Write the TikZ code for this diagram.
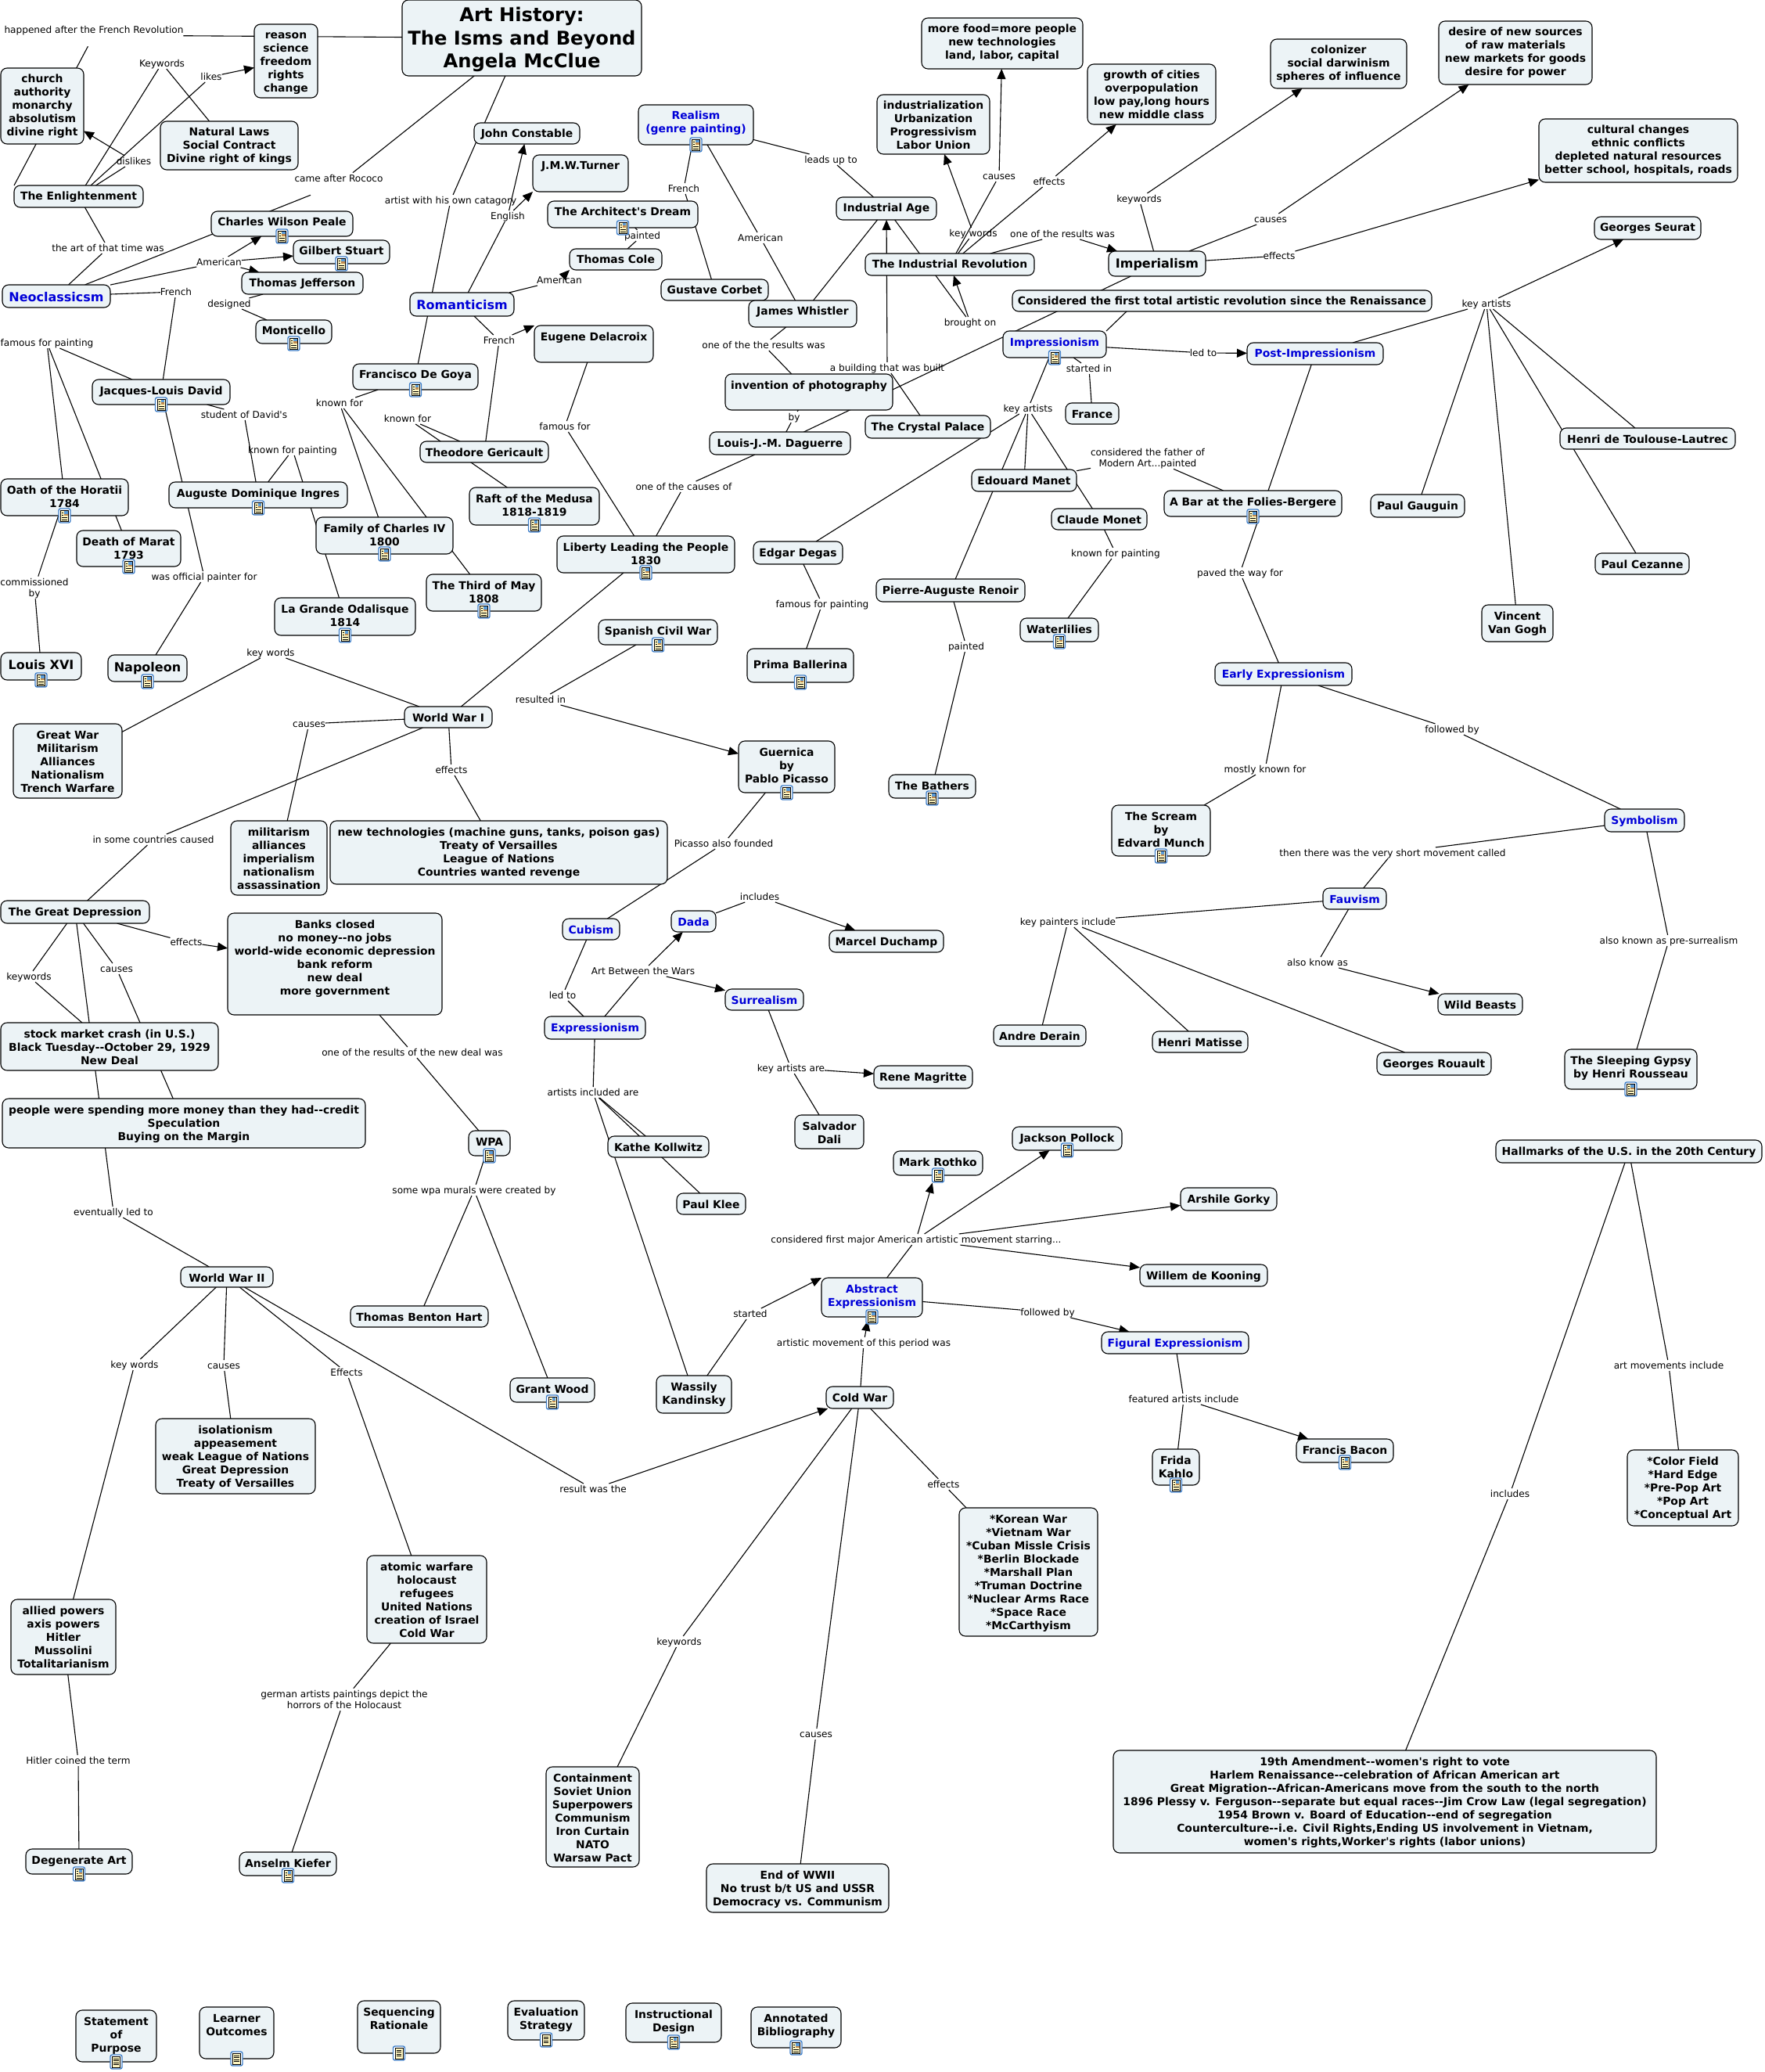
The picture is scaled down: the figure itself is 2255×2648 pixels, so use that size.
\documentclass[tikz,border=0pt]{standalone}
\usepackage{fontspec}
\setmainfont[Ligatures=TeXOff]{DejaVu Sans}
\usetikzlibrary{arrows.meta}
\pgfdeclarelayer{edges}
\pgfsetlayers{edges,main}
\definecolor{boxfill}{HTML}{ECF3F6}
\definecolor{conceptblue}{HTML}{0000D8}
\definecolor{iconblue}{HTML}{3F7FC8}
\definecolor{iconpaper}{HTML}{FFF6C0}
\definecolor{iconsky}{HTML}{5A9BD8}
\definecolor{iconearth}{HTML}{C08A50}
\newcommand\cnrule{9.5pt}
\newcommand\bluetxt{\color{conceptblue}}
\newcommand\bigtxt{\fontsize{8}{9.5}\selectfont\renewcommand\cnrule{10.6pt}}
\newcommand\cnode[7][]{%
  \pgfmathsetmacro\cnW{(#5-#3)*0.5}%
  \pgfmathsetmacro\cnH{(#6-#4)*0.5}%
  \pgfmathsetmacro\cnX{(#3+#5)/2}%
  \pgfmathsetmacro\cnY{(#4+#6)/2}%
  \node[concept] (#2) at (\cnX,\cnY) {\parbox[c][\cnH pt][t]{\cnW pt}{\bfseries\fontsize{6.95}{8.5}\selectfont
    \centering\leftskip=-60pt plus 1fil\rightskip=-60pt plus 1fil#1\leavevmode\rule{0pt}{\cnrule}#7}};%
}
\newcommand\lbl[4]{\node[linklabel] (#1) at (#2,#3) {#4};}
\newcommand\lstr{\rule[-1.2pt]{0pt}{7pt}}
\newcommand\imgicon[1]{\begin{scope}[shift={(#1.south)}]
  \filldraw[draw=iconblue,fill=white,line width=0.7pt,rounded corners=1.2pt] (-7.5,-9) rectangle (7.5,9);
  \filldraw[draw=black,fill=iconpaper,line width=0.35pt] (-5,-7) rectangle (5,7);
  \fill[iconsky] (-0.5,-6) rectangle (4,-2.5);
  \fill[iconearth] (-0.5,-2.5) rectangle (4,0);
  \foreach \yy in {-4,-1,2,5} \draw[line width=0.4pt] (-3.5,\yy) -- (\ifnum\yy<0 -1.2\else 3.5\fi,\yy);
\end{scope}}
\newcommand\txticon[1]{\begin{scope}[shift={(#1.south)}]
  \filldraw[draw=iconblue,fill=white,line width=0.7pt,rounded corners=1.2pt] (-7.5,-9) rectangle (7.5,9);
  \filldraw[draw=black,fill=iconpaper,line width=0.35pt] (-5,-7) rectangle (5,7);
  \foreach \yy in {-4,-1.5,1,3.5} \draw[line width=0.4pt] (-3.3,\yy) -- (3.3,\yy);
\end{scope}}
\tikzset{
  concept/.style={draw=black,fill=boxfill,line width=0.55pt,rounded corners=4pt,inner sep=0pt,outer sep=0pt},
  linklabel/.style={inner sep=0pt,outer sep=0pt,align=center,font=\fontsize{6.05}{7.3}\selectfont},
  conn/.style={draw=black,line width=0.55pt},
  arr/.style={conn,-{Triangle[length=6.5pt,width=5.5pt]}},
}
\begin{document}
\begin{tikzpicture}[x=0.5pt,y=-0.5pt]
\useasboundingbox (0,0) rectangle (2255,2648);
% ---- concepts
\cnode{title}{514}{0}{820}{97}{\fontsize{12.1}{14.6}\selectfont\rule{0pt}{14pt}Art History:\\The Isms and Beyond\\Angela McClue}
\cnode{reason}{325}{31}{406}{125}{reason\\science\\freedom\\rights\\change}
\cnode{church}{1}{87}{107}{184}{church\\authority\\monarchy\\absolutism\\divine right}
\cnode{natlaws}{205}{155}{381}{217}{Natural Laws\\Social Contract\\Divine right of kings}
\cnode{ent}{18}{237}{183}{265}{The Enlightenment}
\cnode{constable}{606}{157}{741}{184}{John Constable}
\cnode{turner}{681}{198}{803}{245}{J.M.W.Turner}
\cnode{peale}{270}{270}{451}{302}{Charles Wilson Peale}
\cnode{gilbert}{375}{307}{498}{337}{Gilbert Stuart}
\cnode{jefferson}{309}{348}{464}{376}{Thomas Jefferson}
\cnode{monticello}{327}{409}{424}{439}{Monticello}
\cnode[\bluetxt\bigtxt]{neo}{3}{364}{141}{393}{Neoclassicsm}
\cnode[\bluetxt\bigtxt]{rom}{524}{374}{657}{404}{Romanticism}
\cnode{delacroix}{683}{416}{835}{463}{Eugene Delacroix}
\cnode{goya}{451}{465}{611}{498}{Francisco De Goya}
\cnode{david}{118}{485}{294}{517}{Jacques-Louis David}
\cnode{gericault}{537}{564}{701}{591}{Theodore Gericault}
\cnode{ingres}{216}{616}{444}{649}{Auguste Dominique Ingres}
\cnode{oath}{1}{612}{164}{659}{Oath of the Horatii\\1784}
\cnode{marat}{98}{678}{231}{724}{Death of Marat\\1793}
\cnode{family}{404}{661}{579}{708}{Family of Charles IV\\1800}
\cnode{raft}{600}{623}{766}{671}{Raft of the Medusa\\1818-1819}
\cnode{thirdmay}{545}{734}{692}{781}{The Third of May\\1808}
\cnode{liberty}{712}{685}{939}{732}{Liberty Leading the People\\1830}
\cnode{architect}{700}{257}{892}{291}{The Architect's Dream}
\cnode{cole}{728}{318}{846}{345}{Thomas Cole}
\cnode{corbet}{845}{357}{982}{384}{Gustave Corbet}
\cnode[\bluetxt]{realism}{816}{134}{963}{185}{Realism\\(genre painting)}
\cnode{food}{1178}{23}{1384}{88}{more food=more people\\new technologies\\land, labor, capital}
\cnode{growth}{1390}{82}{1554}{159}{growth of cities\\overpopulation\\low pay,long hours\\new middle class}
\cnode{colonizer}{1624}{50}{1798}{113}{colonizer\\social darwinism\\spheres of influence}
\cnode{desire}{1839}{27}{2035}{108}{desire of new sources\\of raw materials\\new markets for goods\\desire for power}
\cnode{indust}{1121}{121}{1265}{197}{industrialization\\Urbanization\\Progressivism\\Labor Union}
\cnode{cultural}{1967}{152}{2221}{233}{cultural changes\\ethnic conflicts\\depleted natural resources\\better school, hospitals, roads}
\cnode{indage}{1069}{252}{1197}{281}{Industrial Age}
\cnode{seurat}{2038}{277}{2174}{306}{Georges Seurat}
\cnode{indrev}{1106}{324}{1322}{352}{The Industrial Revolution}
\cnode[\bigtxt]{imperialism}{1417}{321}{1541}{353}{Imperialism}
\cnode{considered}{1294}{371}{1830}{398}{Considered the first total artistic revolution since the Renaissance}
\cnode{whistler}{957}{384}{1095}{418}{James Whistler}
\cnode[\bluetxt]{impr}{1282}{423}{1414}{457}{Impressionism}
\cnode[\bluetxt]{postimp}{1594}{438}{1768}{466}{Post-Impressionism}
\cnode{photo}{927}{478}{1141}{524}{invention of photography}
\cnode{crystal}{1106}{531}{1266}{560}{The Crystal Palace}
\cnode{france}{1362}{515}{1430}{542}{France}
\cnode{daguerre}{907}{552}{1087}{581}{Louis-J.-M. Daguerre}
\cnode{manet}{1242}{600}{1376}{628}{Edouard Manet}
\cnode{monet}{1344}{650}{1466}{677}{Claude Monet}
\cnode{bar}{1488}{627}{1715}{660}{A Bar at the Folies-Bergere}
\cnode{gauguin}{1752}{632}{1872}{661}{Paul Gauguin}
\cnode{lautrec}{1994}{547}{2218}{574}{Henri de Toulouse-Lautrec}
\cnode{cezanne}{2039}{707}{2159}{734}{Paul Cezanne}
\cnode{degas}{963}{692}{1077}{721}{Edgar Degas}
\cnode{renoir}{1120}{740}{1310}{769}{Pierre-Auguste Renoir}
\cnode{vangogh}{1894}{773}{1985}{820}{Vincent\\Van Gogh}
\cnode{waterlilies}{1304}{790}{1404}{820}{Waterlilies}
\cnode{ballerina}{955}{829}{1091}{872}{\rule{0pt}{12.5pt}Prima Ballerina}
\cnode[\bluetxt]{earlyexp}{1553}{847}{1728}{876}{Early Expressionism}
\cnode{guernica}{944}{947}{1067}{1013}{Guernica\\by\\Pablo Picasso}
\cnode{bathers}{1136}{990}{1247}{1020}{The Bathers}
\cnode{scream}{1421}{1029}{1547}{1094}{The Scream\\by\\Edvard Munch}
\cnode[\bluetxt]{symbolism}{2051}{1034}{2153}{1063}{Symbolism}
\cnode[\bluetxt]{fauvism}{1691}{1135}{1772}{1162}{Fauvism}
\cnode{duchamp}{1060}{1189}{1206}{1217}{Marcel Duchamp}
\cnode{wildbeasts}{1838}{1270}{1946}{1297}{Wild Beasts}
\cnode{derain}{1270}{1310}{1388}{1337}{Andre Derain}
\cnode{matisse}{1473}{1318}{1595}{1345}{Henri Matisse}
\cnode{rouault}{1760}{1345}{1906}{1374}{Georges Rouault}
\cnode{gypsy}{2000}{1341}{2169}{1392}{The Sleeping Gypsy\\by Henri Rousseau}
\cnode{magritte}{1117}{1362}{1243}{1391}{Rene Magritte}
\cnode{dali}{1016}{1425}{1104}{1468}{Salvador\\Dali}
\cnode{pollock}{1294}{1440}{1434}{1470}{Jackson Pollock}
\cnode{rothko}{1142}{1471}{1256}{1502}{Mark Rothko}
\cnode{gorky}{1509}{1518}{1632}{1547}{Arshile Gorky}
\cnode{hallmarks}{1912}{1457}{2252}{1486}{Hallmarks of the U.S. in the 20th Century}
\cnode[\bigtxt]{louis}{1}{834}{104}{869}{Louis XVI}
\cnode[\bigtxt]{napoleon}{138}{837}{239}{871}{Napoleon}
\cnode{odalisque}{351}{764}{531}{812}{La Grande Odalisque\\1814}
\cnode{spanish}{765}{792}{917}{824}{Spanish Civil War}
\cnode{wwone}{517}{903}{629}{930}{World War I}
\cnode{greatwar}{17}{925}{156}{1020}{Great War\\Militarism\\Alliances\\Nationalism\\Trench Warfare}
\cnode{militarism}{295}{1049}{418}{1144}{militarism\\alliances\\imperialism\\nationalism\\assassination}
\cnode{newtech}{422}{1049}{853}{1130}{new technologies (machine guns, tanks, poison gas)\\Treaty of Versailles\\League of Nations\\Countries wanted revenge}
\cnode{depression}{1}{1151}{191}{1180}{The Great Depression}
\cnode{banks}{291}{1167}{565}{1297}{Banks closed\\no money--no jobs\\world-wide economic depression\\bank reform\\new deal\\more government}
\cnode[\bluetxt]{cubism}{719}{1174}{792}{1201}{Cubism}
\cnode[\bluetxt]{dada}{858}{1164}{915}{1191}{Dada}
\cnode[\bluetxt]{surrealism}{927}{1264}{1027}{1291}{Surrealism}
\cnode[\bluetxt]{expressionism}{696}{1299}{825}{1328}{Expressionism}
\cnode{stock}{1}{1307}{279}{1368}{stock market crash (in U.S.)\\Black Tuesday--October 29, 1929\\New Deal}
\cnode{people}{3}{1404}{467}{1467}{people were spending more money than they had--credit\\Speculation\\Buying on the Margin}
\cnode{wpa}{599}{1445}{652}{1477}{WPA}
\cnode{kollwitz}{777}{1452}{906}{1479}{Kathe Kollwitz}
\cnode{klee}{865}{1525}{953}{1552}{Paul Klee}
\cnode{wwtwo}{231}{1619}{349}{1645}{World War II}
\cnode{hart}{448}{1669}{624}{1696}{Thomas Benton Hart}
\cnode{wood}{652}{1761}{760}{1792}{Grant Wood}
\cnode{kandinsky}{839}{1758}{935}{1806}{Wassily\\Kandinsky}
\cnode{isolation}{199}{1813}{403}{1909}{isolationism\\appeasement\\weak League of Nations\\Great Depression\\Treaty of Versailles}
\cnode{atomic}{469}{1988}{622}{2100}{atomic warfare\\holocaust\\refugees\\United Nations\\creation of Israel\\Cold War}
\cnode{allied}{14}{2044}{148}{2140}{allied powers\\axis powers\\Hitler\\Mussolini\\Totalitarianism}
\cnode{degenerate}{33}{2363}{169}{2395}{Degenerate Art}
\cnode{kiefer}{306}{2367}{430}{2397}{Anselm Kiefer}
\cnode{containment}{698}{2258}{817}{2386}{Containment\\Soviet Union\\Superpowers\\Communism\\Iron Curtain\\NATO\\Warsaw Pact}
\cnode{endww}{903}{2382}{1136}{2444}{End of WWII\\No trust b/t US and USSR\\Democracy vs. Communism}
\cnode{coldwar}{1056}{1772}{1142}{1800}{Cold War}
\cnode{statement}{97}{2569}{200}{2635}{Statement\\of\\Purpose}
\cnode{learner}{255}{2565}{350}{2631}{Learner\\Outcomes}
\cnode{sequencing}{457}{2557}{563}{2624}{Sequencing\\Rationale}
\cnode{evaluation}{649}{2557}{747}{2607}{Evaluation\\Strategy}
\cnode{instructional}{800}{2560}{922}{2610}{Instructional\\Design}
\cnode{annotated}{960}{2565}{1075}{2617}{Annotated\\Bibliography}
\cnode{dekooning}{1457}{1616}{1620}{1644}{Willem de Kooning}
\cnode[\bluetxt]{abstract}{1050}{1633}{1179}{1683}{Abstract\\Expressionism}
\cnode[\bluetxt]{figural}{1408}{1702}{1596}{1730}{Figural Expressionism}
\cnode{frida}{1473}{1852}{1533}{1898}{Frida\\Kahlo}
\cnode{bacon}{1657}{1839}{1781}{1869}{Francis Bacon}
\cnode{colorfield}{2080}{1853}{2222}{1950}{*Color Field\\{}*Hard Edge\\{}*Pre-Pop Art\\{}*Pop Art\\{}*Conceptual Art}
\cnode{korean}{1226}{1927}{1403}{2091}{*Korean War\\{}*Vietnam War\\{}*Cuban Missle Crisis\\{}*Berlin Blockade\\{}*Marshall Plan\\{}*Truman Doctrine\\{}*Nuclear Arms Race\\{}*Space Race\\{}*McCarthyism}
\cnode{nineteenth}{1423}{2237}{2117}{2368}{19th Amendment--women's right to vote\\Harlem Renaissance--celebration of African American art\\Great Migration--African-Americans move from the south to the north\\1896 Plessy v. Ferguson--separate but equal races--Jim Crow Law (legal segregation)\\1954 Brown v. Board of Education--end of segregation\\Counterculture--i.e. Civil Rights,Ending US involvement in Vietnam,\\women's rights,Worker's rights (labor unions)}
% ---- linking phrases
\lbl{lhappened}{120}{45}{\lstr happened after the French Revolution\\\lstr}
\lbl{lkeywords}{207}{81}{\lstr Keywords}
\lbl{llikes}{270}{98}{\lstr likes}
\lbl{ldislikes}{171}{206}{\lstr dislikes}
\lbl{lrococo}{433}{235}{\lstr came after Rococo\\\lstr}
\lbl{lartist}{576}{256}{\lstr artist with his own catagory}
\lbl{lenglish}{649}{276}{\lstr English}
\lbl{lartthen}{138}{317}{\lstr the art of that time was}
\lbl{lamerNeo}{280}{335}{\lstr American}
\lbl{lfrenchNeo}{225}{373}{\lstr French}
\lbl{ldesigned}{293}{388}{\lstr designed}
\lbl{lpainted}{821}{301}{\lstr painted}
\lbl{lamerRom}{715}{358}{\lstr American}
\lbl{lfrenchRom}{638}{435}{\lstr French}
\lbl{lfamouspaint}{60}{438}{\lstr famous for painting}
\lbl{lstudent}{312}{530}{\lstr student of David's}
\lbl{lknownGoya}{434}{515}{\lstr known for}
\lbl{lknownGer}{521}{535}{\lstr known for}
\lbl{lknownpaint}{374}{575}{\lstr known for painting}
\lbl{lfamous}{722}{545}{\lstr famous for}
\lbl{lcausesof}{874}{622}{\lstr one of the causes of}
\lbl{lcommissioned}{44}{751}{\lstr commissioned\\\lstr by}
\lbl{lofficial}{261}{737}{\lstr was official painter for}
\lbl{lfrenchRea}{874}{241}{\lstr French}
\lbl{lamerRea}{972}{304}{\lstr American}
\lbl{lleads}{1062}{204}{\lstr leads up to}
\lbl{lcauses}{1277}{225}{\lstr causes}
\lbl{leffects}{1341}{232}{\lstr effects}
\lbl{lkeyw}{1244}{298}{\lstr key words}
\lbl{lresults}{1358}{299}{\lstr one of the results was}
\lbl{lkeywImp}{1456}{254}{\lstr keywords}
\lbl{lcausesImp}{1624}{280}{\lstr causes}
\lbl{leffectsImp}{1635}{327}{\lstr effects}
\lbl{lkeyartPost}{1900}{388}{\lstr key artists}
\lbl{lbrought}{1240}{412}{\lstr brought on}
\lbl{lresultsTwo}{976}{441}{\lstr one of the the results was}
\lbl{lbuilding}{1134}{470}{\lstr a building that was built}
\lbl{lledto}{1538}{451}{\lstr led to}
\lbl{lstarted}{1392}{471}{\lstr started in}
\lbl{lby}{1015}{533}{\lstr by}
\lbl{lkeyart}{1314}{522}{\lstr key artists}
\lbl{lfather}{1467}{585}{\lstr considered the father of\\\lstr Modern Art...painted}
\lbl{lknownMonet}{1426}{707}{\lstr known for painting}
\lbl{lpaved}{1585}{732}{\lstr paved the way for}
\lbl{lfamousDegas}{1051}{772}{\lstr famous for painting}
\lbl{lpaintedRen}{1235}{826}{\lstr painted}
\lbl{lfollowedEarly}{1856}{932}{\lstr followed by}
\lbl{lmostly}{1617}{983}{\lstr mostly known for}
\lbl{lthen}{1780}{1090}{\lstr then there was the very short movement called}
\lbl{lpainters}{1365}{1178}{\lstr key painters include}
\lbl{lalsoknow}{1684}{1230}{\lstr also know as}
\lbl{lalsoknown}{2133}{1202}{\lstr also known as pre-surrealism}
\lbl{lkeyartists}{1011}{1365}{\lstr key artists are}
\lbl{lkeywWar}{346}{834}{\lstr key words}
\lbl{lcausesWar}{395}{925}{\lstr causes}
\lbl{lresulted}{691}{894}{\lstr resulted in}
\lbl{leffectsWar}{577}{984}{\lstr effects}
\lbl{lsomecountries}{196}{1073}{\lstr in some countries caused}
\lbl{lpicasso}{925}{1078}{\lstr Picasso also founded}
\lbl{lincludes}{971}{1146}{\lstr includes}
\lbl{leffectsDep}{238}{1204}{\lstr effects}
\lbl{lcausesDep}{149}{1238}{\lstr causes}
\lbl{lkeywDep}{37}{1248}{\lstr keywords}
\lbl{lwars}{822}{1241}{\lstr Art Between the Wars}
\lbl{lledtoCub}{719}{1272}{\lstr led to}
\lbl{lnewdeal}{527}{1345}{\lstr one of the results of the new deal was}
\lbl{lartistsinc}{758}{1396}{\lstr artists included are}
\lbl{lmurals}{606}{1521}{\lstr some wpa murals were created by}
\lbl{leventually}{145}{1549}{\lstr eventually led to}
\lbl{lkeywWW}{172}{1744}{\lstr key words}
\lbl{lcausesWW}{286}{1745}{\lstr causes}
\lbl{lEffectsWW}{443}{1754}{\lstr Effects}
\lbl{lresultwas}{758}{1903}{\lstr result was the}
\lbl{lconsidered}{1171}{1584}{\lstr considered first major American artistic movement starring...}
\lbl{lstartedK}{959}{1679}{\lstr started}
\lbl{lartmove}{1104}{1716}{\lstr artistic movement of this period was}
\lbl{lgerman}{440}{2172}{\lstr german artists paintings depict the\\\lstr horrors of the Holocaust}
\lbl{lhitler}{100}{2250}{\lstr Hitler coined the term}
\lbl{lkeywCold}{868}{2098}{\lstr keywords}
\lbl{lcausesCold}{1043}{2216}{\lstr causes}
\lbl{lfollowedAbs}{1339}{1677}{\lstr followed by}
\lbl{lfeatured}{1513}{1788}{\lstr featured artists include}
\lbl{leffectsCold}{1206}{1897}{\lstr effects}
\lbl{lmovements}{2133}{1745}{\lstr art movements include}
\lbl{lincludesH}{1930}{1909}{\lstr includes}
\coordinate (considfoot) at (1440,398);
% ---- connectors, under the boxes
\begin{pgfonlayer}{edges}
\fill[white] (0,0) rectangle (2255,2648);
\foreach \a/\b in {title/lhappened,ent/lkeywords,lkeywords/natlaws,ent/llikes,ent/ldislikes,ent/lartthen,lartthen/neo,
  title/lrococo,lrococo/neo,neo/lamerNeo,neo/lfrenchNeo,lfrenchNeo/david,jefferson/ldesigned,ldesigned/monticello,
  david/lfamouspaint,lfamouspaint/oath,lfamouspaint/marat,david/lstudent,lstudent/ingres,david/lofficial,lofficial/napoleon,
  oath/lcommissioned,lcommissioned/louis,ingres/lknownpaint,lknownpaint/odalisque,goya/lknownGoya,lknownGoya/family,lknownGoya/thirdmay,
  gericault/lknownGer,lknownGer/raft,title/lartist,lartist/goya,rom/lenglish,rom/lamerRom,rom/lfrenchRom,lfrenchRom/gericault,
  cole/lpainted,lpainted/architect,realism/lfrenchRea,lfrenchRea/corbet,realism/lamerRea,lamerRea/whistler,realism/lleads,lleads/indage,
  whistler/indage,indage/lbrought,lbuilding/crystal,indrev/lkeyw,indrev/lcauses,indrev/leffects,indrev/lresults,
  imperialism/lkeywImp,imperialism/lcausesImp,imperialism/leffectsImp,imperialism/daguerre,photo/lby,lby/daguerre,
  whistler/lresultsTwo,lresultsTwo/photo,impr/lkeyart,impr/lledto,impr/lstarted,lstarted/france,
  lkeyart/degas,lkeyart/manet,lkeyart/monet,lkeyart/renoir,manet/lfather,lfather/bar,postimp/lpaved,lpaved/earlyexp,
  postimp/lkeyartPost,lkeyartPost/gauguin,lkeyartPost/vangogh,lkeyartPost/cezanne,lkeyartPost/lautrec,
  monet/lknownMonet,lknownMonet/waterlilies,degas/lfamousDegas,lfamousDegas/ballerina,renoir/lpaintedRen,lpaintedRen/bathers,
  delacroix/lfamous,lfamous/liberty,daguerre/lcausesof,lcausesof/liberty,liberty/wwone,spanish/lresulted,guernica/lpicasso,lpicasso/cubism,
  cubism/lledtoCub,lledtoCub/expressionism,expressionism/lwars,dada/lincludes,surrealism/lkeyartists,lkeyartists/dali,
  expressionism/lartistsinc,lartistsinc/kollwitz,lartistsinc/klee,lartistsinc/kandinsky,kandinsky/lstartedK,coldwar/lartmove,
  abstract/lconsidered,abstract/lfollowedAbs,figural/lfeatured,lfeatured/frida,coldwar/leffectsCold,leffectsCold/korean,
  coldwar/lkeywCold,lkeywCold/containment,coldwar/lcausesCold,lcausesCold/endww,wwtwo/lresultwas,wwtwo/lkeywWW,lkeywWW/allied,
  wwtwo/lcausesWW,lcausesWW/isolation,wwtwo/lEffectsWW,lEffectsWW/atomic,allied/lhitler,lhitler/degenerate,atomic/lgerman,lgerman/kiefer,
  depression/leventually,leventually/wwtwo,depression/lkeywDep,lkeywDep/stock,depression/lcausesDep,lcausesDep/people,depression/leffectsDep,
  wwone/lsomecountries,lsomecountries/depression,banks/lnewdeal,lnewdeal/wpa,wpa/lmurals,lmurals/hart,lmurals/wood,
  wwone/lkeywWar,lkeywWar/greatwar,wwone/lcausesWar,lcausesWar/militarism,wwone/leffectsWar,leffectsWar/newtech,
  hallmarks/lmovements,lmovements/colorfield,hallmarks/lincludesH,lincludesH/nineteenth,earlyexp/lmostly,lmostly/scream,
  earlyexp/lfollowedEarly,lfollowedEarly/symbolism,symbolism/lthen,lthen/fauvism,symbolism/lalsoknown,lalsoknown/gypsy,
  fauvism/lpainters,lpainters/derain,lpainters/matisse,lpainters/rouault,fauvism/lalsoknow}
  {\draw[conn] (\a) -- (\b);}
\draw[conn] (lhappened) -- (ent.north west);
\draw[conn] (considfoot) -- (impr.north east);
\foreach \a/\b in {llikes/reason,ldislikes/church,lamerNeo/peale,lamerNeo/gilbert,lamerNeo/jefferson,lenglish/constable,
  lbuilding/indage,lbrought/indrev,lkeyw/indust,lcauses/food,leffects/growth,lresults/imperialism,
  lkeywImp/colonizer,lcausesImp/desire,leffectsImp/cultural,lkeyartPost/seurat,lledto/postimp,lresulted/guernica,
  lwars/dada,lwars/surrealism,lincludes/duchamp,lkeyartists/magritte,lconsidered/pollock,lconsidered/gorky,
  lconsidered/dekooning,lfollowedAbs/figural,lfeatured/bacon,lresultwas/coldwar,leffectsDep/banks,lalsoknow/wildbeasts}
  {\draw[arr] (\a) -- (\b);}
\draw[arr] (lamerRom) -- (cole.south west);
\draw[arr] (lenglish) -- (turner.south west);
\draw[arr] (lfrenchRom) -- (delacroix.north west);
\draw[arr] (lstartedK) -- (abstract.north west);
\draw[arr,shorten >=5pt] (lconsidered) -- (rothko);
\draw[arr,shorten >=2.5pt] (lartmove) -- (abstract);
\end{pgfonlayer}
% ---- resource icons
\foreach \n in {peale,gilbert,monticello,realism,architect,goya,david,oath,marat,ingres,family,raft,thirdmay,liberty,odalisque,
  impr,bar,louis,napoleon,spanish,guernica,ballerina,bathers,waterlilies,scream,gypsy,abstract,rothko,pollock,frida,bacon,wpa,wood,
  degenerate,kiefer,instructional,annotated}{\imgicon{\n}}
\foreach \n in {statement,learner,sequencing,evaluation}{\txticon{\n}}
\end{tikzpicture}
\end{document}
